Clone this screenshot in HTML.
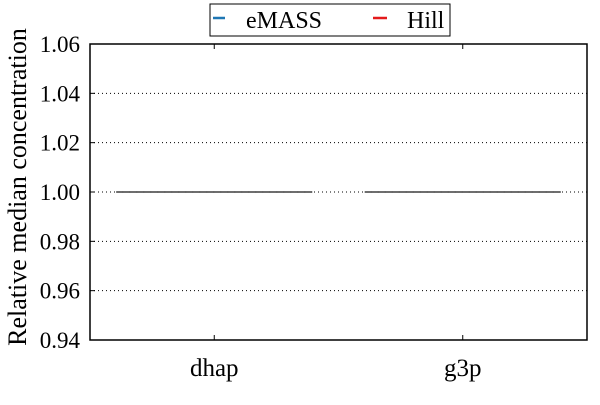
<!DOCTYPE html>
<html><head><meta charset="utf-8"><style>
body{margin:0;background:#fff;}
</style></head><body>
<svg id="c" width="600" height="400" font-family="'Liberation Serif', serif">
</svg>
<script>
const categories=["dhap","g3p"];
const emassMedians=[1.0,1.0];
const hillMedians=[1.0,1.0];
const yTicks=[0.94,0.96,0.98,1.00,1.02,1.04,1.06];
const NS="http://www.w3.org/2000/svg";
const svg=document.getElementById('c');
const L=90,R=587,T=44,B=340;
const FF="Liberation Serif, serif";
const y=v=>B-(v-0.94)/(1.06-0.94)*(B-T);
const bw=(R-L)/categories.length;
const x=i=>L+bw*(i+0.5);
function el(t,a,p){const e=document.createElementNS(NS,t);for(const k in a)e.setAttribute(k,a[k]);if(t==='text'){e.setAttribute('font-family',FF);e.style.fontFamily='"Liberation Serif", serif';}(p||svg).appendChild(e);return e;}
yTicks.forEach(v=>{
  if(v>0.94&&v<1.06){const g=el('line',{x1:L,x2:R,y1:y(v),y2:y(v),stroke:'#000','stroke-width':1,'stroke-dasharray':'1,3'});
  
  }
  const tk=el('line',{x1:L,x2:L+5,y1:y(v),y2:y(v),stroke:'#000'});
  
  
  const t=el('text',{x:L-10,y:y(v)+8,'text-anchor':'end','font-size':23});
  t.textContent=v.toFixed(2);
  
  
});
categories.forEach((c,i)=>{
  const tk=el('line',{x1:x(i),x2:x(i),y1:T,y2:T+5,stroke:'#000'});
  
  
  const tk2=el('line',{x1:x(i),x2:x(i),y1:B,y2:B-5,stroke:'#000'});
  
  
  const t=el('text',{x:x(i),y:B+36,'text-anchor':'middle','font-size':25});
  t.textContent=c;
  
  
  const m1=el('line',{x1:x(i)-98,x2:x(i)+98,y1:y(emassMedians[i]),y2:y(emassMedians[i]),stroke:'#333','stroke-width':1.5});
  
  
  const m2=el('line',{x1:x(i)-98,x2:x(i)+98,y1:y(hillMedians[i]),y2:y(hillMedians[i]),stroke:'#444','stroke-width':1,'stroke-dasharray':'6,1'});
  
  
});
const fr=el('rect',{x:L,y:T,width:R-L,height:B-T,fill:'none',stroke:'#000','stroke-width':1.5});


const yt=el('text',{x:0,y:0,'text-anchor':'middle','font-size':26,transform:`translate(26,${(T+B)/2-5}) rotate(-90)`});
yt.textContent='Relative median concentration';


const lg=el('g',{});


el('rect',{x:210,y:4,width:240,height:32,fill:'#fff',stroke:'#000','stroke-width':1},lg);
el('line',{x1:213,x2:225,y1:18,y2:18,stroke:'#1f77b4','stroke-width':2.5},lg);
const t1=el('text',{x:246,y:28,'font-size':24},lg);t1.textContent='eMASS';


el('line',{x1:373,x2:387,y1:18,y2:18,stroke:'#e41a1c','stroke-width':2.5},lg);
const t2=el('text',{x:407,y:28,'font-size':24},lg);t2.textContent='Hill';


</script>
</body></html>
